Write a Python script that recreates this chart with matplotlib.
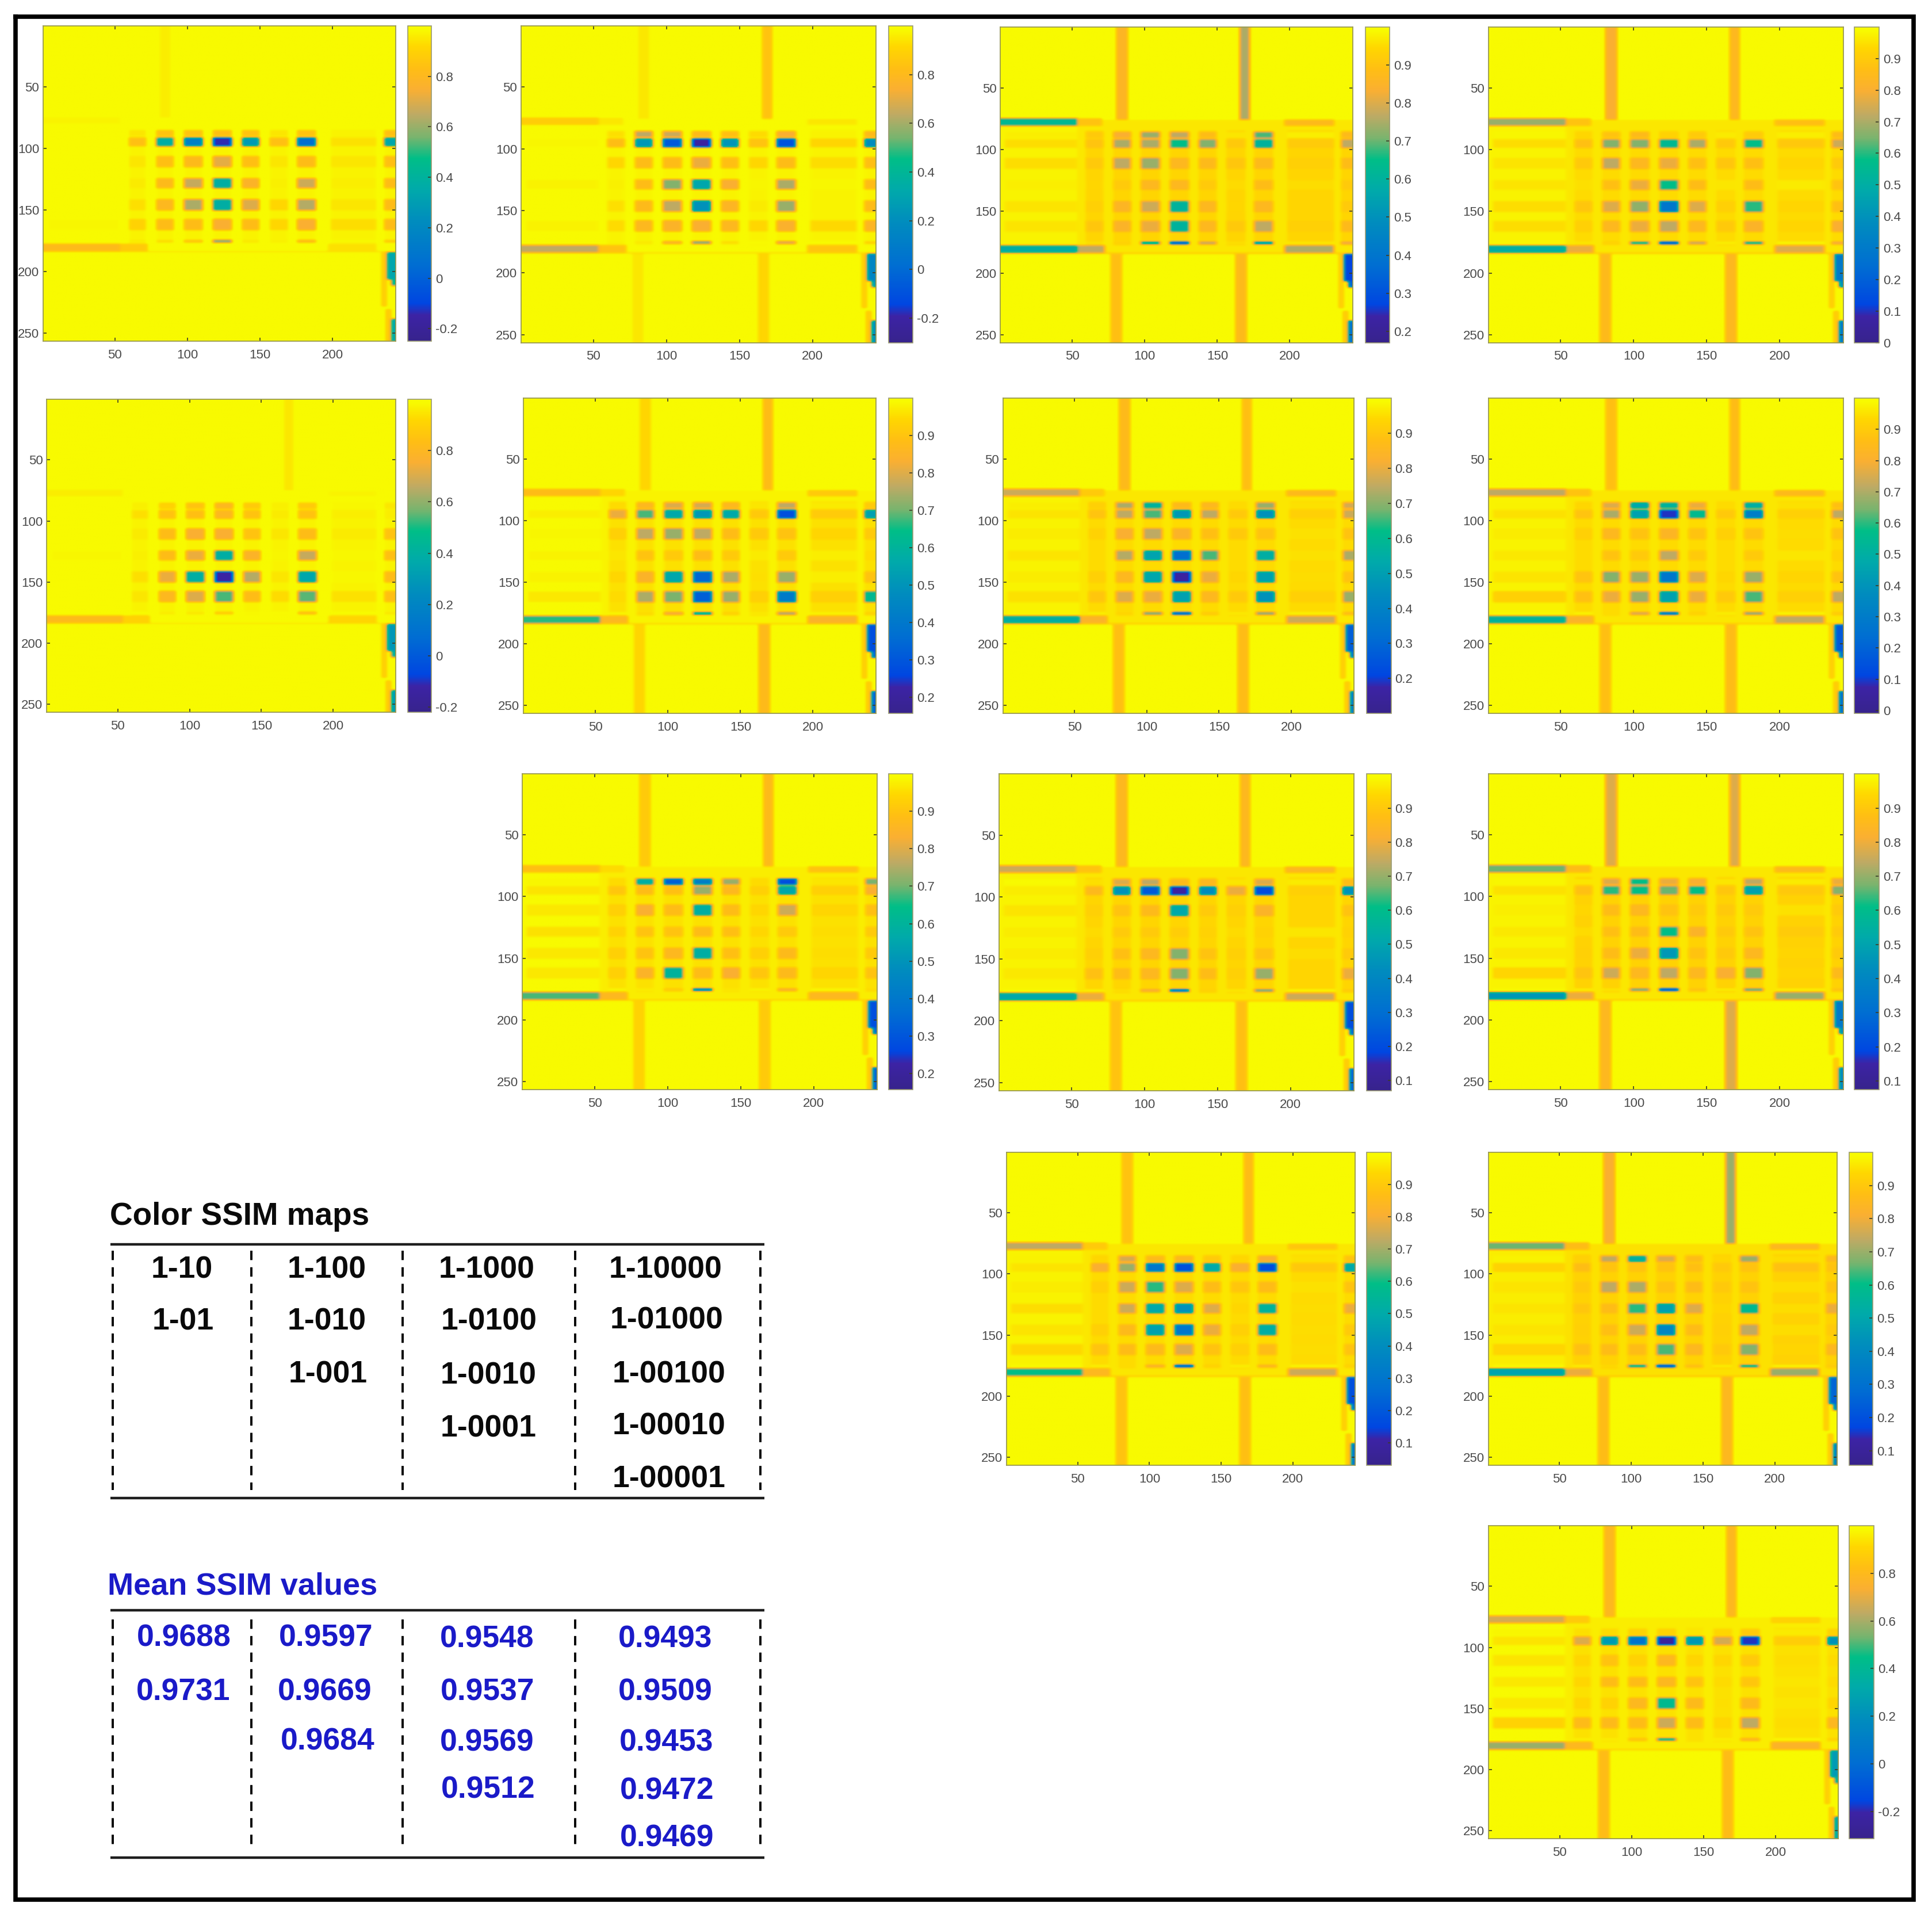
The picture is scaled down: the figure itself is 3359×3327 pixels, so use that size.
import numpy as np
import matplotlib
matplotlib.use('Agg')
import matplotlib.pyplot as plt
from matplotlib.colors import LinearSegmentedColormap

plt.rcParams['font.family'] = ['Liberation Sans', 'DejaVu Sans']

# table text ================================================================
map_names = ['1-10', '1-100', '1-1000', '1-10000',
             '1-01', '1-010', '1-0100', '1-01000',
             '1-001', '1-0010', '1-00100',
             '1-0001', '1-00010',
             '1-00001']
mean_ssim = ['0.9688', '0.9597', '0.9548', '0.9493',
             '0.9731', '0.9669', '0.9537', '0.9509',
             '0.9684', '0.9569', '0.9453',
             '0.9512', '0.9472',
             '0.9469']

# colour bar range and ticks of each map ====================================
clim_lo = [-0.25, -0.30, 0.17, 0.0, -0.22, 0.157, 0.10, -0.01, 0.157, 0.07, 0.075, 0.03, 0.056, -0.315]
ticks_08 = [-0.2, 0, 0.2, 0.4, 0.6, 0.8]
ticks_02 = [0.2, 0.3, 0.4, 0.5, 0.6, 0.7, 0.8, 0.9]
ticks_01 = [0.1, 0.2, 0.3, 0.4, 0.5, 0.6, 0.7, 0.8, 0.9]
ticks_00 = [0, 0.1, 0.2, 0.3, 0.4, 0.5, 0.6, 0.7, 0.8, 0.9]
cbar_ticks = [ticks_08, ticks_08, ticks_02, ticks_00, ticks_08, ticks_02, ticks_02, ticks_00,
              ticks_02, ticks_01, ticks_01, ticks_01, ticks_01, ticks_08]

# all levels below are read as percent of the height of that map's colour bar
# one row of numbers = one horizontal row of blocks, first number is the streak on the left
cells_1_10 = [[99, 95, 88, 88, 87, 88, 95, 88, 97, 87],
              [98, 85, 50, 33, 9, 43, 85, 25, 93, 47],
              [99, 95, 87, 85, 77, 87, 95, 86, 94, 87],
              [98, 96, 85, 73, 50, 82, 97, 74, 96, 86],
              [98, 94, 84, 70, 50, 76, 92, 71, 94, 86],
              [97, 91, 86, 86, 80, 86, 92, 80, 92, 86],
              [100, 96, 94, 88, 60, 96, 97, 84, 98, 90]]
cells_1_100 = [[99, 94, 72, 74, 85, 87, 93, 80, 97, 85],
               [97, 84, 42, 18, 7, 41, 86, 16, 90, 38],
               [98, 92, 86, 86, 78, 87, 92, 86, 92, 87],
               [96, 97, 86, 66, 47, 80, 98, 70, 98, 86],
               [98, 94, 85, 72, 40, 83, 96, 68, 97, 86],
               [96, 93, 84, 82, 80, 84, 92, 81, 91, 83],
               [100, 97, 96, 80, 60, 94, 99, 72, 99, 92]]
cells_1_1000 = [[95, 88, 80, 68, 72, 86, 95, 62, 96, 85],
                [90, 86, 70, 70, 58, 66, 88, 52, 86, 72],
                [90, 88, 72, 68, 84, 85, 87, 85, 88, 86],
                [95, 92, 90, 84, 84, 90, 93, 86, 92, 90],
                [92, 90, 83, 74, 52, 84, 92, 84, 90, 90],
                [92, 87, 82, 78, 52, 84, 88, 72, 88, 85],
                [96, 94, 92, 45, 5, 70, 94, 35, 95, 75]]
cells_1_10000 = [[97, 92, 88, 85, 92, 90, 96, 90, 96, 86],
                 [90, 85, 66, 66, 55, 70, 88, 58, 85, 74],
                 [92, 88, 72, 84, 78, 87, 87, 87, 90, 90],
                 [92, 94, 87, 78, 58, 86, 95, 86, 95, 88],
                 [90, 87, 76, 67, 28, 76, 90, 60, 90, 87],
                 [90, 90, 84, 78, 72, 84, 88, 82, 90, 80],
                 [97, 95, 92, 50, 3, 70, 97, 50, 98, 76]]
cells_1_01 = [[99, 97, 92, 88, 84, 90, 97, 90, 98, 96],
              [98, 94, 88, 87, 84, 88, 96, 88, 96, 97],
              [98, 96, 86, 80, 80, 88, 95, 86, 95, 88],
              [97, 97, 86, 78, 50, 82, 98, 73, 98, 87],
              [99, 94, 78, 50, 8, 71, 95, 47, 98, 86],
              [98, 95, 84, 76, 62, 86, 93, 63, 93, 87],
              [100, 99, 97, 96, 90, 99, 99, 86, 99, 96]]
cells_1_010 = [[98, 93, 84, 76, 75, 84, 95, 72, 95, 90],
               [95, 78, 62, 48, 42, 48, 88, 15, 86, 45],
               [97, 90, 72, 68, 72, 86, 88, 88, 90, 90],
               [96, 95, 88, 90, 86, 90, 96, 90, 96, 94],
               [96, 92, 82, 47, 22, 70, 94, 68, 96, 88],
               [93, 93, 70, 65, 20, 68, 90, 30, 88, 55],
               [99, 98, 94, 76, 42, 92, 96, 66, 97, 92]]
cells_1_0100 = [[95, 90, 70, 52, 85, 84, 93, 68, 93, 75],
                [92, 86, 72, 62, 42, 72, 88, 40, 88, 74],
                [94, 91, 80, 72, 82, 87, 88, 88, 93, 88],
                [92, 93, 71, 46, 25, 62, 93, 50, 93, 70],
                [94, 90, 84, 47, 7, 78, 92, 45, 92, 88],
                [91, 87, 76, 78, 45, 84, 88, 40, 88, 68],
                [97, 97, 93, 60, 8, 90, 96, 62, 97, 85]]
cells_1_01000 = [[96, 92, 76, 47, 52, 78, 93, 50, 93, 87],
                 [91, 86, 70, 45, 10, 56, 88, 32, 88, 72],
                 [94, 90, 84, 88, 83, 88, 90, 88, 92, 88],
                 [93, 93, 88, 90, 72, 90, 93, 90, 94, 92],
                 [92, 86, 66, 68, 28, 76, 92, 68, 90, 88],
                 [85, 85, 78, 68, 45, 78, 88, 62, 88, 72],
                 [98, 98, 94, 72, 15, 92, 97, 62, 98, 90]]
cells_1_001 = [[97, 93, 50, 20, 32, 68, 93, 15, 94, 65],
               [92, 87, 86, 87, 68, 84, 90, 47, 88, 80],
               [93, 90, 80, 86, 50, 86, 92, 74, 90, 87],
               [91, 91, 88, 88, 86, 87, 92, 90, 92, 90],
               [93, 90, 88, 84, 50, 87, 90, 85, 92, 90],
               [93, 90, 82, 52, 86, 80, 87, 85, 90, 88],
               [98, 98, 97, 90, 25, 96, 98, 80, 98, 94]]
cells_1_0010 = [[98, 94, 76, 72, 85, 84, 95, 76, 95, 86],
                [94, 82, 40, 18, 7, 38, 78, 14, 88, 40],
                [92, 90, 88, 85, 48, 90, 90, 82, 90, 88],
                [94, 93, 90, 90, 91, 92, 93, 92, 94, 92],
                [94, 90, 87, 84, 66, 88, 90, 88, 92, 90],
                [93, 85, 86, 84, 66, 86, 90, 68, 90, 78],
                [98, 97, 95, 78, 20, 92, 96, 60, 98, 90]]
cells_1_00100 = [[97, 95, 76, 58, 78, 80, 95, 72, 95, 78],
                 [91, 85, 60, 58, 64, 58, 87, 45, 85, 66],
                 [95, 92, 86, 84, 88, 90, 88, 90, 93, 90],
                 [93, 93, 87, 86, 58, 82, 88, 88, 86, 90],
                 [93, 90, 86, 78, 42, 88, 88, 84, 90, 90],
                 [87, 86, 74, 84, 72, 84, 80, 66, 90, 85],
                 [98, 97, 96, 60, 3, 88, 97, 58, 97, 88]]
cells_1_0001 = [[96, 92, 75, 85, 84, 90, 92, 80, 93, 88],
                [92, 80, 68, 28, 15, 48, 80, 14, 85, 48],
                [94, 90, 74, 60, 76, 86, 87, 86, 93, 88],
                [90, 93, 74, 48, 40, 76, 92, 52, 92, 78],
                [92, 90, 85, 45, 28, 78, 90, 50, 92, 90],
                [88, 86, 86, 85, 76, 88, 90, 86, 92, 88],
                [98, 97, 94, 80, 8, 92, 97, 82, 98, 92]]
cells_1_00010 = [[96, 90, 72, 50, 76, 86, 92, 68, 92, 84],
                 [86, 84, 88, 88, 88, 87, 88, 88, 82, 88],
                 [92, 88, 72, 70, 88, 86, 88, 88, 92, 88],
                 [92, 87, 86, 60, 45, 76, 92, 55, 92, 78],
                 [92, 90, 87, 74, 35, 86, 90, 72, 92, 90],
                 [87, 85, 86, 86, 62, 84, 88, 66, 90, 84],
                 [98, 97, 94, 50, 2, 86, 97, 50, 98, 90]]
cells_1_00001 = [[97, 94, 94, 92, 92, 96, 92, 90, 95, 92],
                 [92, 76, 43, 27, 6, 42, 75, 10, 87, 40],
                 [92, 92, 88, 92, 84, 93, 92, 90, 92, 94],
                 [93, 92, 86, 86, 84, 88, 93, 89, 94, 94],
                 [93, 92, 92, 84, 56, 85, 94, 85, 94, 93],
                 [86, 83, 85, 86, 74, 86, 92, 72, 92, 84],
                 [98, 97, 97, 88, 50, 95, 97, 82, 98, 92]]
all_cells = [cells_1_10, cells_1_100, cells_1_1000, cells_1_10000,
             cells_1_01, cells_1_010, cells_1_0100, cells_1_01000,
             cells_1_001, cells_1_0010, cells_1_00100,
             cells_1_0001, cells_1_00010,
             cells_1_00001]

# other structures, same order as map_names
center_level = [100, 99, 96, 96, 100, 98, 96, 96, 97, 96, 96, 96, 95, 97]
halo_level = [98, 98, 93, 94, 98, 95, 94, 94, 95, 93, 92, 94, 92, 95]
top_band_left = [98, 91, 55, 68, 97, 86, 74, 72, 87, 74, 64, 72, 64, 75]
top_band_mid = [99, 96, 88, 88, 99, 93, 90, 88, 94, 88, 86, 90, 86, 90]
top_band_right = [99, 96, 85, 87, 98, 90, 85, 85, 88, 84, 85, 89, 84, 92]
bot_band_left = [85, 72, 50, 50, 85, 60, 50, 52, 62, 48, 42, 58, 46, 68]
bot_band_mid = [90, 88, 72, 78, 92, 84, 82, 82, 84, 78, 78, 84, 78, 84]
bot_band_right = [95, 89, 70, 76, 93, 82, 74, 72, 84, 74, 68, 74, 68, 82]
stripe_top_a = [97, 96, 83, 80, 100, 93, 85, 87, 90, 84, 76, 88, 80, 84]
stripe_top_b = [100, 88, 70, 84, 96, 86, 87, 86, 85, 84, 76, 86, 68, 84]
stripe_bot_a = [100, 96, 87, 85, 100, 93, 87, 87, 92, 88, 84, 88, 86, 86]
stripe_bot_b = [100, 93, 85, 84, 100, 85, 86, 86, 90, 87, 76, 87, 84, 86]
edge_upper = [47, 35, 12, 30, 42, 15, 20, 18, 15, 15, 30, 15, 22, 43]
edge_lower = [47, 38, 25, 28, 42, 20, 30, 25, 20, 22, 35, 25, 30, 45]

# where the structures sit in the image (row / column numbers of the 256x243 map)
block_rows = [(85, 90), (91, 98), (106, 115), (124, 132), (141, 150), (157, 166), (174, 176)]
block_cols = [(3, 53), (59, 71), (78, 90), (97, 110), (117, 130), (137, 149), (156, 169), (175, 188), (198, 230), (235, 243)]
soft_share = [0.55, 0.85, 1, 1, 1, 1, 0.85, 1, 0.7, 1]  # how strong the faint tints of a column come out

# axes box of each map in 1568 wide picture coordinates: left, right, top, bottom, bar left, bar right
layout = [(35, 321, 21, 277, 331, 350), (423, 711, 21, 278, 721, 741), (812, 1098, 22, 278, 1108, 1128), (1208, 1496, 22, 278, 1505, 1525),
          (38, 321, 324, 578, 331, 350), (425, 711, 323, 579, 721, 741), (814, 1099, 323, 579, 1109, 1129), (1208, 1496, 323, 579, 1505, 1525),
          (424, 712, 628, 884, 721, 741), (811, 1099, 628, 885, 1109, 1129), (1208, 1496, 628, 884, 1505, 1525),
          (817, 1100, 935, 1189, 1109, 1129), (1208, 1491, 935, 1189, 1501, 1520),
          (1208, 1492, 1238, 1492, 1501, 1521)]

# table positions in picture pixels
name_x = [316, 568, 846, 1157, 318, 568, 850, 1159, 570, 849, 1163, 849, 1163, 1163]
name_y = [2208, 2208, 2208, 2208, 2297, 2297, 2297, 2295, 2390, 2392, 2390, 2483, 2479, 2572]
mean_x = [320, 567, 847, 1157, 319, 565, 848, 1157, 570, 847, 1159, 849, 1160, 1160]
mean_y = [2847, 2847, 2849, 2849, 2942, 2942, 2942, 2942, 3028, 3030, 3030, 3112, 3114, 3196]

W, H = 3359, 3327
S = W / 1568

parula = LinearSegmentedColormap.from_list('parula_like', [
    (0.0, (55/255, 35/255, 140/255)), (0.082, (60/255, 35/255, 165/255)), (0.12, (0, 70/255, 225/255)),
    (0.243, (0, 110/255, 210/255)), (0.38, (0, 140/255, 190/255)), (0.483, (0, 170/255, 170/255)),
    (0.58, (0, 190/255, 135/255)), (0.647, (120/255, 180/255, 110/255)), (0.72, (190/255, 170/255, 100/255)),
    (0.80, (250/255, 175/255, 50/255)), (0.866, (255/255, 190/255, 20/255)), (0.935, (255/255, 215/255, 0)),
    (0.99, (248/255, 250/255, 0)), (1.0, (248/255, 250/255, 0))], N=512)


def soften(img):
    # the reference is a blurred screenshot, so the blocks get soft edges
    pad = np.pad(img, 2, mode='edge')
    pad = np.apply_along_axis(lambda v: np.convolve(v, [1/16, 4/16, 6/16, 4/16, 1/16], mode='same'), 1, pad)
    pad = np.apply_along_axis(lambda v: np.convolve(v, [1/4, 2/4, 1/4], mode='same'), 0, pad)
    return pad[2:-2, 2:-2]


def build_map(i):
    img = np.full((256, 243), 100.0)
    # vertical stripes above and below the middle band
    img[:75, 80:88] = stripe_top_a[i]
    img[:75, 165:172] = stripe_top_b[i]
    img[183:, 76:84] = stripe_bot_a[i]
    img[183:, 162:170] = stripe_bot_b[i]
    # middle band
    img[75:183, :] = center_level[i]
    img[75:183, :53] = min(100, center_level[i] + 2)
    for (c0, c1) in block_cols[1:]:
        img[84:177, c0:c1] = halo_level[i]
    for r, (r0, r1) in enumerate(block_rows):
        for c, (c0, c1) in enumerate(block_cols):
            level = all_cells[i][r][c]
            if level > 80:
                level = 100 - (100 - level) * soft_share[c]
            img[r0:r1, c0:c1] = level
    # the long bands at both ends of the middle band
    img[74:80, 0:53] = top_band_left[i]
    img[74:80, 53:70] = top_band_mid[i]
    img[75:80, 196:230] = top_band_right[i]
    img[177:183, 0:53] = bot_band_left[i]
    img[177:183, 53:72] = bot_band_mid[i]
    img[177:183, 196:230] = bot_band_right[i]
    img[183, :] = center_level[i] - 6
    # the blobs at the right edge
    img[184:228, 233:237] = 91
    img[184:206, 237:243] = edge_upper[i]
    img[206:211, 240:243] = edge_upper[i] + 8
    img[230:256, 236:240] = 90
    img[238:256, 240:243] = edge_lower[i]
    return soften(img)


fig = plt.figure(figsize=(W / 100, H / 100), dpi=100)
bg = fig.add_axes([0, 0, 1, 1])
bg.set_xlim(0, W)
bg.set_ylim(H, 0)
bg.axis('off')

bg.plot([27, 3327, 3327, 27, 27], [29, 29, 3302, 3302, 29], color='black', lw=5.5, solid_joinstyle='miter')

for i in range(len(map_names)):
    l, r, t, b, cl, cr = layout[i]
    ax = fig.add_axes([l * S / W, 1 - b * S / H, (r - l) * S / W, (b - t) * S / H])
    lo = clim_lo[i]
    data = lo + build_map(i) / 100 * (1 - lo)
    im = ax.imshow(data, cmap=parula, vmin=lo, vmax=1, aspect='auto', interpolation='bilinear',
                   extent=(0.5, 243.5, 256.5, 0.5))
    ax.set_xticks([50, 100, 150, 200])
    ax.set_yticks([50, 100, 150, 200, 250])
    ax.tick_params(axis='both', direction='in', length=4, width=1.2, color='#3c3c28', top=True, right=True,
                   labelsize=16, labelcolor='#4a4a4a')
    ax.tick_params(axis='x', pad=10)
    ax.tick_params(axis='y', pad=5)
    for s in ax.spines.values():
        s.set_color('#9a9a50')
        s.set_linewidth(1.3)

    cax = fig.add_axes([cl * S / W, 1 - b * S / H, (cr - cl) * S / W, (b - t) * S / H])
    cb = fig.colorbar(im, cax=cax, ticks=cbar_ticks[i], format='%g')
    cb.ax.tick_params(direction='in', length=4, width=1.2, color='#3c3c28', labelsize=16, labelcolor='#4a4a4a', pad=5)
    cb.outline.set_edgecolor('#9a9a70')
    cb.outline.set_linewidth(1.2)

# tables ====================================================================
bg.text(191, 2115, 'Color SSIM maps', fontsize=39.5, fontweight='bold', color='#0a0a0a', va='center', ha='left')
bg.text(187, 2758, 'Mean SSIM values', fontsize=39, fontweight='bold', color='#1a1ac8', va='center', ha='left')
for y in [2163, 2604, 2799, 3229]:
    bg.plot([192, 1329], [y, y], color='#1e1e1e', lw=3.2, solid_capstyle='butt')
for x in [196, 437, 700, 1000, 1322]:
    bg.plot([x, x], [2174, 2590], color='black', lw=2.8, linestyle=(0, (4.2, 3.2)))
    bg.plot([x, x], [2815, 3210], color='black', lw=2.8, linestyle=(0, (4.2, 3.2)))
for i in range(len(map_names)):
    bg.text(name_x[i], name_y[i], map_names[i], fontsize=38.5, fontweight='bold', color='#0a0a0a', ha='center', va='center')
    bg.text(mean_x[i], mean_y[i], mean_ssim[i], fontsize=38.5, fontweight='bold', color='#1a1ac8', ha='center', va='center')

fig.savefig('out.png', dpi=100, facecolor='white')
